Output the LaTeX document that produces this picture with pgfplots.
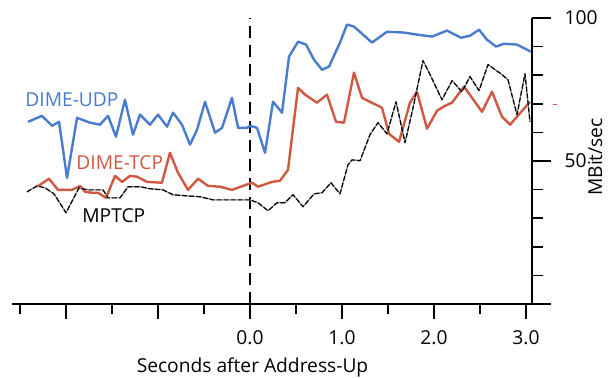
\documentclass[border=0pt]{standalone}
\usepackage{fontspec}
\setmainfont{Open Sans}
\usepackage{pgfplots}
\pgfplotsset{compat=1.18}
\definecolor{udp}{RGB}{72,124,204}
\definecolor{tcp}{RGB}{208,88,64}
\newcommand{\lblfont}{\fontsize{9.6}{11}\selectfont}
\begin{document}
\begin{tikzpicture}[x=1pt,y=1pt]
\path (0,0) rectangle (304,189);
\begin{axis}[
  at={(6pt,37pt)}, anchor=south west,
  scale only axis, width=260pt, height=143pt,
  xmin=-2.587, xmax=3.065, ymin=0, ymax=100,
  axis x line*=bottom, axis y line*=right,
  axis line style={line width=1pt},
  tick align=outside,
  every tick/.style={black, line width=0.8pt},
  xtick={-2,-1,0,1,2,3}, xticklabels={,,0.0,1.0,2.0,3.0},
  minor xtick={-2.5,-1.5,-0.5,0.5,1.5,2.5},
  xtick style={/pgfplots/major tick length=7.5pt, /pgfplots/minor tick length=5pt},
  extra x ticks={-2,0}, extra x tick labels={},
  extra x tick style={/pgfplots/major tick length=9pt},
  ytick={0,50,100}, yticklabels={,50,100},
  minor ytick={10,20,30,40,60,70,80,90},
  ytick style={/pgfplots/major tick length=9.5pt, /pgfplots/minor tick length=5.5pt},
  tick label style={font=\lblfont},
  xticklabel style={yshift=-5.5pt},
  yticklabel style={xshift=8.5pt},
  clip=false,
]
% vertical reference line at Address-Up
\addplot[black, line width=0.9pt, dash pattern=on 6pt off 3.5pt] coordinates {(0,0) (0,100)};
% DIME-UDP
\addplot[udp, line width=1.2pt, line join=round] coordinates {
(-2.413,63.7) (-2.261,65.8) (-2.152,62.3) (-2.076,63.7) (-1.989,44.1) (-1.880,65.1)
(-1.739,63.4) (-1.630,62.7) (-1.543,65.8) (-1.457,58.5) (-1.359,71.4) (-1.272,59.2)
(-1.196,66.2) (-1.087,62.7) (-1.000,66.2) (-0.902,62.0) (-0.837,66.9) (-0.739,62.7)
(-0.652,55.7) (-0.576,60.9) (-0.489,70.7) (-0.380,59.9) (-0.304,61.6) (-0.196,72.1)
(-0.130,61.6) (-0.033,61.6) (0,62.3) (0.076,61.6) (0.163,52.9) (0.250,70.7)
(0.348,66.9) (0.424,86.5) (0.522,91.7) (0.609,90.7) (0.696,85.4) (0.783,81.9)
(0.859,83.0) (0.978,91.4) (1.054,97.7) (1.130,97.0) (1.228,94.2) (1.326,91.4)
(1.489,95.2) (1.674,94.9) (1.815,94.2) (1.978,93.5) (2.141,95.6) (2.293,93.1)
(2.391,93.8) (2.489,95.9) (2.576,92.4) (2.674,90.0) (2.761,91.0) (2.902,90.7)
(3.011,88.9) (3.054,88.2)
};
% DIME-TCP
\addplot[tcp, line width=1.2pt, line join=round] coordinates {
(-2.315,41.0) (-2.185,43.8) (-2.087,39.9) (-1.935,39.9) (-1.848,41.3) (-1.793,39.2)
(-1.717,38.9) (-1.652,38.9) (-1.565,37.1) (-1.467,44.8) (-1.391,42.7) (-1.304,44.8)
(-1.228,44.5) (-1.120,42.7) (-0.957,42.4) (-0.870,52.9) (-0.783,45.9) (-0.674,39.9)
(-0.565,43.8) (-0.457,41.3) (-0.326,41.0) (-0.196,39.9) (-0.076,41.3) (0.022,42.4)
(0.087,41.0) (0.239,42.7) (0.326,43.1) (0.413,46.9) (0.522,75.6) (0.598,73.2)
(0.728,70.4) (0.837,73.2) (0.935,63.7) (1.022,63.4) (1.130,80.9) (1.217,72.1)
(1.435,68.6) (1.511,59.5) (1.620,56.7) (1.739,70.4) (1.815,74.2) (1.924,61.3)
(2.033,67.6) (2.120,69.3) (2.196,70.4) (2.326,76.0) (2.522,67.2) (2.630,74.2)
(2.739,65.5) (2.826,62.7) (3.043,70.7)
};
% MPTCP
\addplot[black!45, line width=0.6pt, line join=round] coordinates {
(-2.424,39.2) (-2.315,41.3) (-2.228,40.6) (-2.130,38.5) (-2.000,31.9) (-1.859,40.6)
(-1.761,39.9) (-1.598,39.9) (-1.543,37.1) (-1.413,37.1) (-1.326,41.0) (-1.196,41.0)
(-1.087,40.3) (-0.946,39.9) (-0.837,38.2) (-0.685,37.8) (-0.543,37.5) (-0.402,36.4)
(-0.207,36.4) (0,36.4) (0.087,35.4) (0.196,32.6) (0.293,35.4) (0.380,35.4)
(0.467,38.2) (0.576,34.0) (0.696,38.5) (0.783,38.9) (0.880,42.4) (0.978,38.5)
(1.065,48.7) (1.109,50.4) (1.196,50.1) (1.304,59.2) (1.391,63.4) (1.489,59.5)
(1.587,70.7) (1.685,56.4) (1.772,68.6) (1.880,85.1) (1.957,80.2) (2.087,71.4)
(2.196,78.1) (2.304,74.2) (2.391,79.5) (2.489,74.6) (2.587,83.7) (2.739,80.2)
(2.804,78.4) (2.902,66.2) (2.989,80.5) (3.043,63.7)
};
\addplot[black, line width=0.6pt, line join=round, dash pattern=on 2.5pt off 1pt] coordinates {
(-2.424,39.2) (-2.315,41.3) (-2.228,40.6) (-2.130,38.5) (-2.000,31.9) (-1.859,40.6)
(-1.761,39.9) (-1.598,39.9) (-1.543,37.1) (-1.413,37.1) (-1.326,41.0) (-1.196,41.0)
(-1.087,40.3) (-0.946,39.9) (-0.837,38.2) (-0.685,37.8) (-0.543,37.5) (-0.402,36.4)
(-0.207,36.4) (0,36.4) (0.087,35.4) (0.196,32.6) (0.293,35.4) (0.380,35.4)
(0.467,38.2) (0.576,34.0) (0.696,38.5) (0.783,38.9) (0.880,42.4) (0.978,38.5)
(1.065,48.7) (1.109,50.4) (1.196,50.1) (1.304,59.2) (1.391,63.4) (1.489,59.5)
(1.587,70.7) (1.685,56.4) (1.772,68.6) (1.880,85.1) (1.957,80.2) (2.087,71.4)
(2.196,78.1) (2.304,74.2) (2.391,79.5) (2.489,74.6) (2.587,83.7) (2.739,80.2)
(2.804,78.4) (2.902,66.2) (2.989,80.5) (3.043,63.7)
};
% small red stray mark at right
\addplot[tcp, line width=0.8pt, mark=-, mark size=1pt, only marks] coordinates {(3.315,69.7)};
\end{axis}
\node[anchor=west, inner sep=0pt, text=udp, font=\lblfont] at (12.5,139.25) {DIME-UDP};
\node[anchor=west, inner sep=0pt, text=tcp, font=\lblfont] at (38,107.75) {DIME-TCP};
\node[anchor=west, inner sep=0pt, text=black, font=\lblfont] at (41,81.25) {MPTCP};
\node[anchor=base, inner sep=0pt, font=\lblfont] at (126.25,2.5) {Seconds after Address-Up};
\node[rotate=90, inner sep=0pt, font=\lblfont] at (297.6,110.5) {MBit/sec};
\end{tikzpicture}
\end{document}
